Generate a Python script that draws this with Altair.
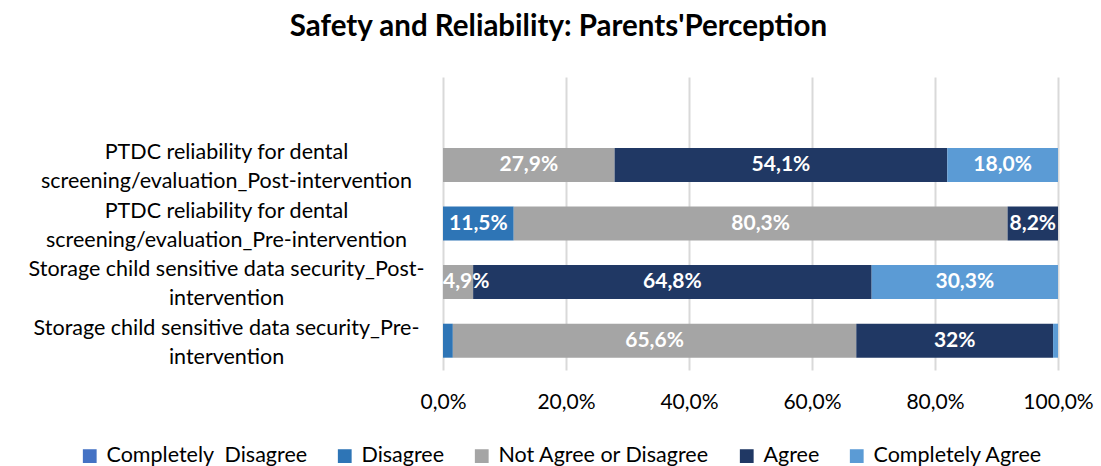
import altair as alt
import pandas as pd

categories = [
    "PTDC reliability for dental|screening/evaluation_Post-intervention",
    "PTDC reliability for dental|screening/evaluation_Pre-intervention",
    "Storage child sensitive data security_Post-|intervention",
    "Storage child sensitive data security_Pre-|intervention",
]
responses = ["Completely\u00a0 Disagree", "Disagree", "Not Agree or Disagree", "Agree", "Completely Agree"]
colors = ["#4472C4", "#2E75B6", "#A5A5A5", "#203864", "#5B9BD5"]

# values per category, in response order (percent)
values = [
    [0.0, 0.0, 27.9, 54.1, 18.0],
    [0.0, 11.5, 80.3, 8.2, 0.0],
    [0.0, 0.0, 4.9, 64.8, 30.3],
    [0.0, 1.6, 65.6, 32.0, 0.8],
]
labels = [
    ["", "", "27,9%", "54,1%", "18,0%"],
    ["", "11,5%", "80,3%", "8,2%", ""],
    ["", "", "4,9%", "64,8%", "30,3%"],
    ["", "", "65,6%", "32%", ""],
]

rows = []
for cat, vals, labs in zip(categories, values, labels):
    start = 0.0
    for i, (resp, v, lab) in enumerate(zip(responses, vals, labs)):
        rows.append({"cat": cat, "resp": resp, "order": i,
                     "start": start / 100, "end": (start + v) / 100,
                     "mid": (start + v / 2) / 100, "label": lab, "v": v})
        start += v
df = pd.DataFrame(rows)

font = "Lato"
ydomain = [" "] + categories

y = alt.Y("cat:N", scale=alt.Scale(domain=ydomain, paddingInner=0.42, paddingOuter=0.21),
          axis=alt.Axis(title=None, labelExpr="split(datum.label, '|')", labelAlign="center",
                        labelBaseline="middle", labelPadding=217, labelFontSize=21.5,
                        labelLineHeight=29, labelOffset=-12, labelFont=font,
                        labelColor="#000000", ticks=False, domain=False, labelLimit=500))
x_scale = alt.Scale(domain=[0, 1], nice=False)

bars = alt.Chart(df).transform_filter("datum.v > 0").mark_bar().encode(
    y=y,
    x=alt.X("start:Q", scale=x_scale,
            axis=alt.Axis(title=None, values=[0, 0.2, 0.4, 0.6, 0.8, 1.0],
                          labelExpr="replace(format(datum.value*100, '.1f'), '.', ',') + '%'",
                          labelFontSize=21, labelFont=font, labelColor="#000000",
                          labelPadding=21, labelFlush=False, ticks=False, domain=False,
                          grid=True, gridColor="#D9D9D9", gridWidth=2)),
    x2="end:Q",
    color=alt.Color("resp:N", scale=alt.Scale(domain=responses, range=colors),
                    legend=alt.Legend(title=None, orient="none", direction="horizontal",
                                      columns=5, legendX=-364, legendY=368,
                                      symbolType="square", symbolSize=190,
                                      symbolStrokeWidth=0, labelFontSize=21.5, labelFont=font,
                                      labelColor="#000000", labelOffset=6, columnPadding=26,
                                      padding=0, labelLimit=400)),
    order=alt.Order("order:Q"),
)

text = alt.Chart(df).transform_filter("datum.label != ''").transform_calculate(
    tx="datum.v < 6 ? datum.start : datum.mid"
).mark_text(
    color="white", fontWeight="bold", fontSize=21, font=font,
    align=alt.expr("datum.v < 6 ? 'left' : 'center'")
).encode(
    y=alt.Y("cat:N", scale=alt.Scale(domain=ydomain)),
    x=alt.X("tx:Q", scale=x_scale),
    text="label:N",
)

chart = alt.layer(bars, text).properties(
    width=615, height=293,
    padding={"left": 443, "top": 77, "right": 43, "bottom": 96},
    autosize=alt.AutoSizeParams(type="none"),
    title=alt.TitleParams("Safety and Reliability: Parents'Perception", fontSize=29.5,
                          font=font, fontWeight="bold", color="#000000",
                          anchor="middle", dx=-192, offset=35),
).configure_view(stroke=None)

chart.save("out.html", embed_options={"renderer": "svg", "actions": False})
